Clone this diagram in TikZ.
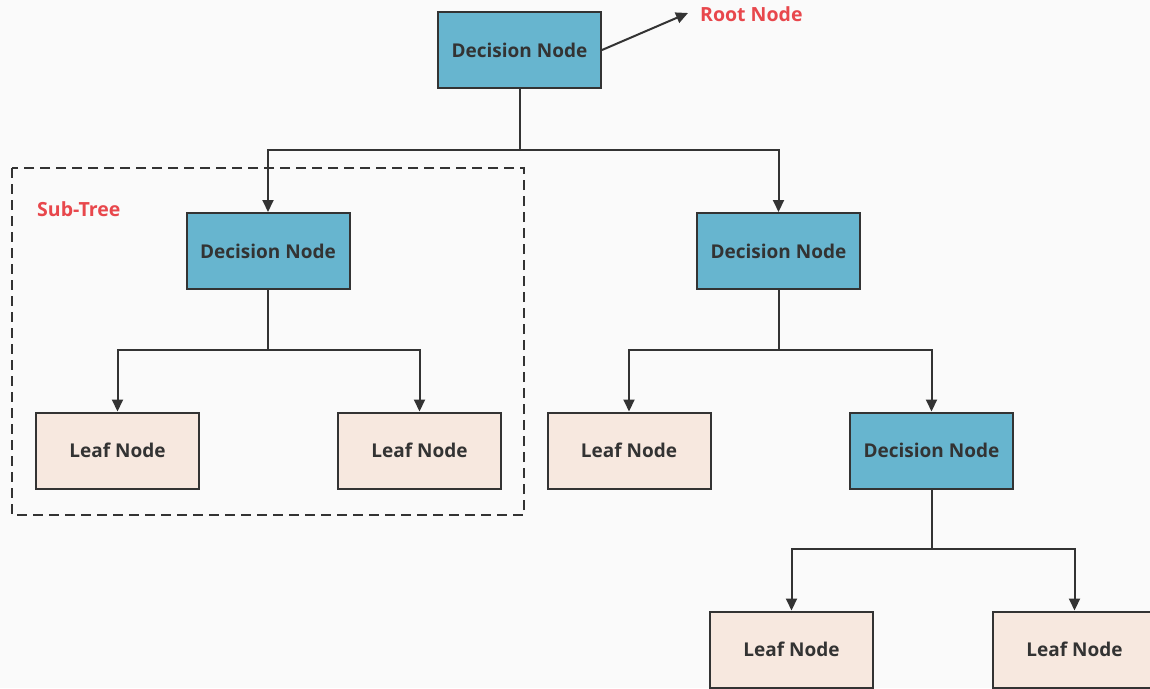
\documentclass[tikz,border=0pt]{standalone}
\usepackage{fontspec}
\setmainfont{Open Sans}
\usetikzlibrary{arrows.meta}
\definecolor{bg}{HTML}{FAFAFA}
\definecolor{decfill}{HTML}{67B5CF}
\definecolor{leaffill}{HTML}{F7E8DF}
\definecolor{edge}{HTML}{333333}
\definecolor{txt}{HTML}{333333}
\definecolor{redtxt}{HTML}{E8474C}
\tikzset{
  box/.style={draw=edge, line width=2pt, minimum width=163pt, minimum height=76pt, inner sep=0pt, font=\fontsize{19}{22}\selectfont\bfseries, text=txt},
  decnode/.style={box, fill=decfill},
  leafnode/.style={box, fill=leaffill},
  conn/.style={draw=edge, line width=2pt},
  arr/.style={conn, -{Triangle[length=12pt,width=11pt]}},
  redlabel/.style={font=\fontsize{19.5}{22}\selectfont\bfseries, text=redtxt, inner sep=0pt},
}
\begin{document}
\begin{tikzpicture}[x=1pt,y=-1pt]
\fill[bg] (0,0) rectangle (1150,688);
\useasboundingbox (0,0) rectangle (1150,688);
% sub-tree frame
\draw[edge, line width=2pt, dash pattern=on 10pt off 6pt] (12,168) rectangle (524,515);
\node[redlabel, anchor=west] (subtree) at (37,209) {Sub-Tree};
% nodes
\node[decnode] (root) at (519.5,50) {Decision Node};
\node[decnode] (dl) at (268,251) {Decision Node};
\node[decnode] (dr) at (778.5,251) {Decision Node};
\node[leafnode] (ll) at (117.5,450.5) {Leaf Node};
\node[leafnode] (lr) at (419.5,450.5) {Leaf Node};
\node[leafnode] (rl) at (629,450.5) {Leaf Node};
\node[decnode] (rr) at (931.5,450.5) {Decision Node};
\node[leafnode] (bl) at (791.5,649.5) {Leaf Node};
\node[leafnode] (br) at (1074.5,649.5) {Leaf Node};
\node[redlabel, anchor=west] (rootlabel) at (700,14) {Root Node};
\coordinate (rootend) at (688,13);
% connectors
\draw[arr] (root.east) -- (rootend);
\draw[conn] (root.south) -- (519.5,150) coordinate (j1);
\draw[arr] (j1) -| (dl.north);
\draw[arr] (j1) -| (dr.north);
\draw[conn] (dl.south) -- (268,350) coordinate (j2);
\draw[arr] (j2) -| (ll.north);
\draw[arr] (j2) -| (lr.north);
\draw[conn] (dr.south) -- (778.5,350) coordinate (j3);
\draw[arr] (j3) -| (rl.north);
\draw[arr] (j3) -| (rr.north);
\draw[conn] (rr.south) -- (931.5,549) coordinate (j4);
\draw[arr] (j4) -| (bl.north);
\draw[arr] (j4) -| (br.north);
\end{tikzpicture}
\end{document}
